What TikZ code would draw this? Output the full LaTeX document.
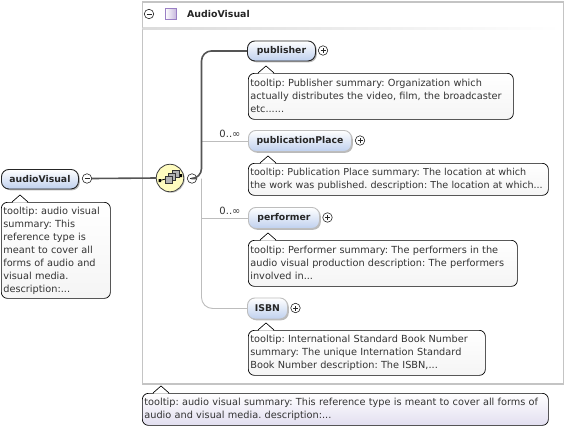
\documentclass[tikz,border=0pt]{standalone}
\usepackage{fontspec}
\setmainfont{DejaVu Sans}
\frenchspacing
\usetikzlibrary{shadows,calc}
\definecolor{nodeblue}{HTML}{BFD0EE}
\definecolor{framegray}{HTML}{C4C4C4}
\definecolor{darkline}{HTML}{555555}
\definecolor{lightline}{HTML}{BDBDBD}
\definecolor{lav}{HTML}{E2DFF0}
\definecolor{purp}{HTML}{9A7FC4}
\tikzset{
  elem/.style={draw=#1, line width=0.9pt, rounded corners=7.5pt, anchor=north west, inner sep=0pt,
    top color=white, bottom color=nodeblue, text=black!85,
    font=\fontsize{9.3}{12}\selectfont\bfseries,
    drop shadow={shadow xshift=1.3pt, shadow yshift=-1.3pt, opacity=.45, fill=black!60}},
  tipbox/.style={draw=black, line width=0.7pt, rounded corners=6pt, anchor=north west, inner sep=0pt,
    inner xsep=2pt, align=left, top color=white, bottom color=#1, text=black!80,
    font=\fontsize{9.75}{13}\selectfont},
  tipbox/.default=black!4,
  tipnotch/.style={draw=black, line width=0.7pt, fill=white},
  togglec/.style={circle, draw=black!85, line width=0.6pt, fill=white, minimum size=9.5pt, inner sep=0pt},
  heavy/.style={draw=darkline, line width=1.6pt},
  thin line/.style={draw=lightline, line width=0.9pt},
  card/.style={font=\fontsize{10}{11}\selectfont, text=black!80, inner sep=0pt},
}
\newcommand{\notchon}[2]{\path[tipnotch] ([xshift=#2-8pt]#1.north west) -- ([xshift=#2,yshift=7pt]#1.north west) -- ([xshift=#2+8pt]#1.north west);
  \fill[white] ([xshift=#2-7.2pt,yshift=-0.6pt]#1.north west) -- ([xshift=#2,yshift=6.2pt]#1.north west) -- ([xshift=#2+7.2pt,yshift=-0.6pt]#1.north west) -- cycle;}
\newcommand{\minussign}[1]{\draw[black!85,line width=0.6pt] ([xshift=-2.5pt]#1.center) -- ([xshift=2.5pt]#1.center);}
\newcommand{\plussign}[1]{\draw[black!85,line width=0.6pt] ([xshift=-2.5pt]#1.center) -- ([xshift=2.5pt]#1.center) ([yshift=-2.5pt]#1.center) -- ([yshift=2.5pt]#1.center);}
\begin{document}
\begin{tikzpicture}[x=1pt,y=-1pt]
\useasboundingbox (0,0) rectangle (564,429);
\fill[white] (0,0) rectangle (564,429);
% frame
\node[draw=framegray, line width=1.8pt, anchor=north west, minimum width=421pt, minimum height=382.5pt, inner sep=0pt] (frame) at (141.5,0.8) {};
\shade[left color=black!14, right color=white] (142.5,27) rectangle (560,29);
\node[togglec] (tf) at (149,14) {}; \minussign{tf}
\node[draw=purp, line width=0.8pt, left color=white, right color=purp!55, minimum size=11pt, inner sep=0pt] (sq) at (170.5,14) {};
\node[anchor=west, inner sep=0pt, text=black!85, font=\fontsize{9.4}{12}\selectfont\bfseries] (ttl) at (187,14) {AudioVisual};

% root
\node[elem=black!85, minimum width=77pt, minimum height=19.5pt] (root) at (1,169) {audioVisual};
\node[togglec] (rm) at (87,178.5) {}; \minussign{rm}
\node[circle, draw=black!75, line width=0.8pt, fill=yellow!25, minimum size=27.5pt, inner sep=0pt,
  drop shadow={shadow xshift=1pt, shadow yshift=-1pt, opacity=.4, fill=black!60}] (comp) at (170,178) {};
\node[togglec] (cm) at (192,178.5) {}; \minussign{cm}
\coordinate (bus) at (201.5,178.5);

% children
\node[elem=black!85, minimum width=68pt, minimum height=20pt] (pub) at (247,40.5) {publisher};
\node[togglec] (pubp) at (323,50.5) {}; \plussign{pubp}
\node[elem=lightline, minimum width=103pt, minimum height=21pt] (place) at (248,130) {publicationPlace};
\node[togglec] (placep) at (360,140.5) {}; \plussign{placep}
\node[elem=lightline, minimum width=71pt, minimum height=21pt] (perf) at (248,207) {performer};
\node[togglec] (perfp) at (327.5,217.5) {}; \plussign{perfp}
\node[elem=lightline, minimum width=40pt, minimum height=21pt] (isbn) at (247,297.5) {ISBN};
\node[togglec] (isbnp) at (295.5,308) {}; \plussign{isbnp}

% connectors
\draw[heavy] (rm.east) -- (comp.west);
\draw[thin line, rounded corners=11pt] (bus) |- (isbn.west);
\draw[thin line] (bus |- place.west) -- (place.west);
\draw[thin line] (bus |- perf.west) -- (perf.west);
\draw[heavy, rounded corners=10pt] (cm.east) -- (bus) |- (pub.west);

\node[card, anchor=south] (c1) at (230,138) {0..∞};
\node[card, anchor=south] (c2) at (230,215) {0..∞};

% compositor icon
\draw[black,line width=0.8pt] (159.5,180.5) -- (180.5,175.5);
\fill[black] (158.5,179) rectangle (161,182) (179.5,174) rectangle (182,177);
\foreach \dx/\dy in {8/-4.5,4.5/-1.5,1/1.5}{
  \draw[black!80,line width=0.7pt,fill=black!30] ($(comp.center)+(\dx-6,\dy-3)$) rectangle ($(comp.center)+(\dx+1,\dy+3.5)$);}

% tooltips
\node[tipbox, text width=105pt, minimum height=96pt] (t0) at (1,202) {tooltip: audio visual\\summary: This\\reference type is\\meant to cover all\\forms of audio and\\visual media.\\description:...};
\notchon{t0}{19pt}
\node[tipbox, text width=261pt, minimum height=46pt] (t1) at (248,73) {tooltip: Publisher summary: Organization which\\actually distributes the video, film, the broadcaster\\etc......};
\notchon{t1}{18pt}
\node[tipbox, text width=296pt, minimum height=32pt, font=\fontsize{9.6}{13}\selectfont] (t2) at (248,163) {tooltip: Publication Place summary: The location at which\\the work was published. description: The location at which...};
\notchon{t2}{20pt}
\node[tipbox, text width=265pt, minimum height=46pt] (t3) at (248,240) {tooltip: Performer summary: The performers in the\\audio visual production description: The performers\\involved in...};
\notchon{t3}{20pt}
\node[tipbox, text width=233pt, minimum height=45pt] (t4) at (248,330) {tooltip: International Standard Book Number\\summary: The unique Internation Standard\\Book Number description: The ISBN,...};
\notchon{t4}{18pt}
\node[tipbox=lav, text width=402pt, minimum height=32pt] (t5) at (142,393) {tooltip: audio visual summary: This reference type is meant to cover all forms of\\audio and visual media. description:...};
\notchon{t5}{19pt}
\end{tikzpicture}
\end{document}
